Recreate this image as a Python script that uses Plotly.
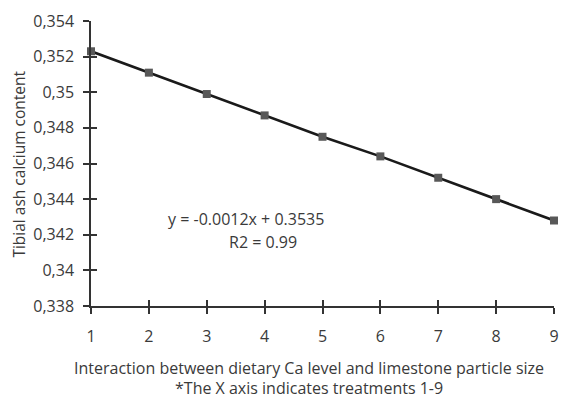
import plotly.graph_objects as go

treatments = [1, 2, 3, 4, 5, 6, 7, 8, 9]
ca_content = [0.3523, 0.3511, 0.3499, 0.3487, 0.3475, 0.3464, 0.3452, 0.3440, 0.3428]
y_tickvals = [0.338, 0.340, 0.342, 0.344, 0.346, 0.348, 0.350, 0.352, 0.354]
y_ticktext = ["0,338", "0,34", "0,342", "0,344", "0,346", "0,348", "0,35", "0,352", "0,354"]
x_tickvals = treatments
x_ticktext = [str(t) for t in treatments]

font_family = "Open Sans, Liberation Sans, sans-serif"
txt = "#3a3a3a"
axc = "#333333"
fs = 16

fig = go.Figure()
fig.add_trace(go.Scatter(
    x=treatments, y=ca_content, mode="lines+markers",
    line=dict(color="#1a1a1a", width=2.6),
    marker=dict(symbol="square", size=8, color="#585858"),
    cliponaxis=False, showlegend=False, hoverinfo="skip",
))
fig.add_trace(go.Scatter(x=treatments, y=ca_content, xaxis="x2", yaxis="y2",
                         mode="markers", marker=dict(opacity=0), showlegend=False, hoverinfo="skip"))

tk = dict(showgrid=False, zeroline=False, tickcolor=axc, tickwidth=1.5, ticklen=6)
fig.update_layout(
    width=564, height=398,
    margin=dict(l=91, r=5, t=21, b=92),
    paper_bgcolor="white", plot_bgcolor="white",
    font=dict(family=font_family, size=fs, color=txt),
    xaxis=dict(range=[1, 9], tickvals=x_tickvals, ticktext=x_ticktext, ticks="outside",
               showline=True, linecolor=axc, linewidth=1.5, ticklabelstandoff=9,
               tickfont=dict(size=fs, color=txt), **tk),
    yaxis=dict(range=[0.338, 0.354], tickvals=y_tickvals, ticktext=y_ticktext, ticks="outside",
               showline=True, linecolor=axc, linewidth=1.5, ticklabelstandoff=6,
               tickfont=dict(size=fs, color=txt), **tk),
    xaxis2=dict(range=[1, 9], tickvals=x_tickvals, ticks="inside", showticklabels=False,
                overlaying="x", anchor="y", side="bottom", showline=False, **tk),
    yaxis2=dict(range=[0.338, 0.354], tickvals=y_tickvals, ticks="inside", showticklabels=False,
                overlaying="y", anchor="x", side="left", showline=False, **tk),
)

fig.add_annotation(text="Tibial ash calcium content", xref="paper", yref="paper",
                   x=-0.155, y=0.497, textangle=-90, showarrow=False,
                   font=dict(size=15.5, color=txt), xanchor="center", yanchor="middle")
fig.add_annotation(text="Interaction between dietary Ca level and limestone particle size",
                   xref="paper", yref="paper", x=0.471, y=-0.2175, showarrow=False,
                   font=dict(size=fs, color=txt), xanchor="center", yanchor="middle")
fig.add_annotation(text="*The X axis indicates treatments 1-9",
                   xref="paper", yref="paper", x=0.471, y=-0.288, showarrow=False,
                   font=dict(size=fs, color=txt), xanchor="center", yanchor="middle")
fig.add_annotation(text="y = -0.0012x + 0.3535", xref="x", yref="y", x=3.68, y=0.34288,
                   showarrow=False, font=dict(size=fs, color=txt), xanchor="center", yanchor="middle")
fig.add_annotation(text="R2 = 0.99", xref="x", yref="y", x=3.97, y=0.34158,
                   showarrow=False, font=dict(size=fs, color=txt), xanchor="center", yanchor="middle")

fig.write_html("out.html")
